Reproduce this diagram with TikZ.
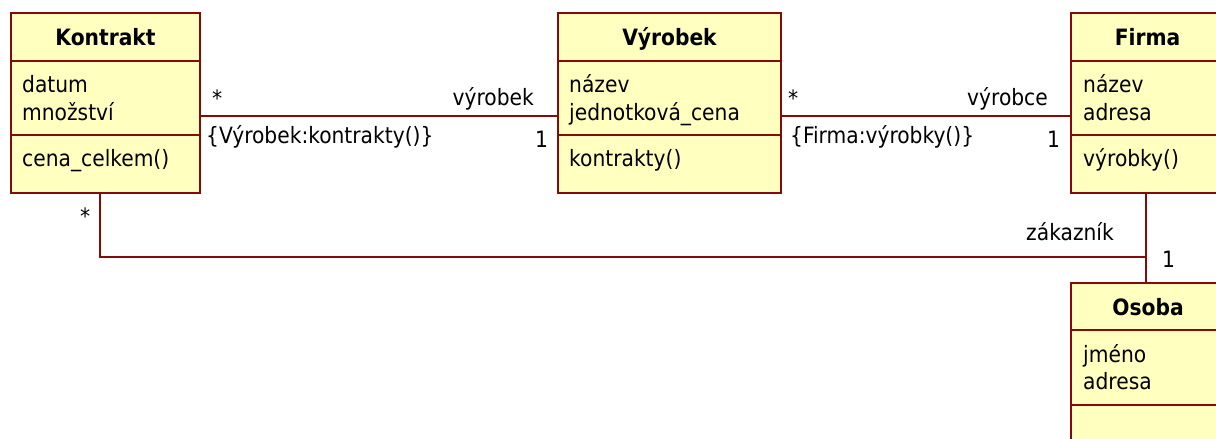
\documentclass[tikz,border=0pt]{standalone}
\usepackage{fontspec}
\setmainfont{DejaVu Sans Condensed}
\definecolor{uml}{RGB}{135,10,10}
\definecolor{umlfill}{RGB}{255,255,192}
\begin{document}
\begin{tikzpicture}[x=1pt,y=-1pt,
  cls/.style={draw=uml, fill=umlfill, line width=2.3pt, rectangle, inner sep=0pt, outer sep=0pt, anchor=north west},
  dv/.style={draw=uml, line width=2.3pt},
  conn/.style={draw=uml, line width=2.3pt},
  txt/.style={inner sep=0pt, anchor=base west, font=\fontsize{22.5}{26}\selectfont},
  ttl/.style={inner sep=0pt, anchor=base, font=\fontsize{22.5}{26}\selectfont\bfseries},
  rtxt/.style={inner sep=0pt, anchor=base east, font=\fontsize{22.5}{26}\selectfont}]
\useasboundingbox (0,0) rectangle (1216,439);
\clip (0,0) rectangle (1216,439);
\fill[white] (0,0) rectangle (1216,439);

% class boxes
\node[cls, minimum width=189pt, minimum height=180pt] (kontrakt) at (11,13) {};
\node[cls, minimum width=223pt, minimum height=180pt] (vyrobek) at (558,13) {};
\node[cls, minimum width=200pt, minimum height=180pt] (firma) at (1071,13) {};
\node[cls, minimum width=200pt, minimum height=200pt] (osoba) at (1071,283) {};

% dividers
\foreach \n in {kontrakt,vyrobek,firma}{
  \draw[dv] ([yshift=-48pt]\n.north west) -- ([yshift=-48pt]\n.north east);
  \draw[dv] ([yshift=-122pt]\n.north west) -- ([yshift=-122pt]\n.north east);
}
\draw[dv] ([yshift=-47pt]osoba.north west) -- ([yshift=-47pt]osoba.north east);
\draw[dv] ([yshift=-122pt]osoba.north west) -- ([yshift=-122pt]osoba.north east);

% Kontrakt texts
\node[ttl] (kt) at (105.5,45) {Kontrakt};
\node[txt] (ka1) at (22,92) {datum};
\node[txt] (ka2) at (22,120) {množství};
\node[txt] (km1) at (22,166) {cena\_celkem()};

% Vyrobek texts
\node[ttl] (vt) at (669.5,45) {Výrobek};
\node[txt] (va1) at (569,92) {název};
\node[txt] (va2) at (569,120) {jednotková\_cena};
\node[txt] (vm1) at (569,166) {kontrakty()};

% Firma texts
\node[ttl] (ft) at (1147.5,45) {Firma};
\node[txt] (fa1) at (1083,92) {název};
\node[txt] (fa2) at (1083,120) {adresa};
\node[txt] (fm1) at (1083,166) {výrobky()};

% Osoba texts
\node[ttl] (ot) at (1148,315) {Osoba};
\node[txt] (oa1) at (1083,362) {jméno};
\node[txt] (oa2) at (1083,389) {adresa};

% connectors
\draw[conn] ([yshift=-13pt]kontrakt.east) -- ([yshift=-13pt]vyrobek.west);
\draw[conn] ([yshift=-13pt]vyrobek.east) -- ([yshift=-13pt]firma.west);
\draw[conn] ([xshift=-5.5pt]kontrakt.south) |- ([xshift=-25pt,yshift=26pt]osoba.north);
\draw[conn] ([xshift=-25pt]firma.south) -- ([xshift=-25pt]osoba.north);

% association labels
\node[txt] (s1) at (212,106) {*};
\node[rtxt] (r1) at (534,105) {výrobek};
\node[txt] (c1) at (206,143) {\{Výrobek:kontrakty()\}};
\node[txt] (m1) at (535,147) {1};

\node[txt] (s2) at (788,106) {*};
\node[rtxt] (r2) at (1048,105) {výrobce};
\node[txt] (c2) at (790,143) {\{Firma:výrobky()\}};
\node[txt] (m2) at (1047,147) {1};

\node[txt] (s3) at (80,224) {*};
\node[rtxt] (r3) at (1114,240) {zákazník};
\node[txt] (m3) at (1162,267) {1};
\end{tikzpicture}
\end{document}
